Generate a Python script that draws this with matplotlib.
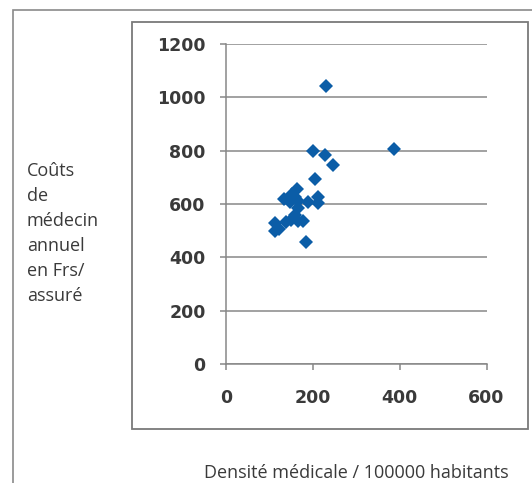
import matplotlib

matplotlib.use("Agg")
import matplotlib.pyplot as plt
from matplotlib.patches import Rectangle

# medical density (per 100000 inhabitants) vs annual doctor cost per insured
densite = [230, 388, 201, 229, 247, 205, 163, 153, 134, 147, 166, 190, 212, 212,
           166, 158, 149, 138, 166, 178, 112, 123, 112, 184, 160]
couts = [1040, 805, 797, 783, 745, 693, 657, 637, 617, 606, 612, 606, 628, 603,
         585, 560, 541, 531, 535, 535, 530, 505, 498, 458, 625]

x_ticks = [0, 200, 400, 600]
y_ticks = [0, 200, 400, 600, 800, 1000, 1200]
y_label_lines = ["Coûts", "de", "médecin", "annuel", "en Frs/", "assuré"]
x_label = "Densité médicale / 100000 habitants"

W, H = 532, 483
GREY = "#878787"
TEXT = "#3a3a3a"
BLUE = "#0b5da7"


def fx(px):
    return px / W


def fy(py):
    return 1 - py / H


fig = plt.figure(figsize=(W / 100, H / 100), dpi=100)

# outer frame and chart-area frame
fig.patches.append(Rectangle((fx(13.3), fy(490)), 1.0, fy(10) - fy(490),
                             transform=fig.transFigure, fill=False,
                             edgecolor="#8a8a8a", lw=1.2))
fig.patches.append(Rectangle((fx(132.3), fy(429)), fx(528) - fx(132.3), fy(22.3) - fy(429),
                             transform=fig.transFigure, fill=False,
                             edgecolor="#7a7a7a", lw=1.3))

ax = fig.add_axes([fx(226), fy(364.3), fx(486.5) - fx(226), fy(43.7) - fy(364.3)])
ax.set_facecolor("none")
ax.plot(densite, couts, ls="none", marker="D", ms=7.4, color=BLUE, zorder=3,
        markeredgewidth=0)

ax.set_xlim(0, 600)
ax.set_ylim(0, 1200)
ax.set_xticks(x_ticks)
ax.set_yticks(y_ticks)
ax.grid(axis="y", color=GREY, lw=1.1)
ax.set_axisbelow(True)
for side in ("top", "right"):
    ax.spines[side].set_visible(False)
for side in ("left", "bottom"):
    ax.spines[side].set_color(GREY)
    ax.spines[side].set_linewidth(1.1)
ax.tick_params(axis="both", colors=GREY, length=4.6, width=1.1, labelcolor=TEXT)
ax.tick_params(axis="y", pad=10)
ax.tick_params(axis="x", pad=13.5)
for lab in ax.get_xticklabels() + ax.get_yticklabels():
    lab.set_fontfamily("DejaVu Sans")
    lab.set_fontweight("bold")
    lab.set_fontsize(12.5)

for i, line in enumerate(y_label_lines):
    fig.text(fx(27), fy(176 + 25 * i), line, ha="left", va="baseline",
             fontsize=13, family="Open Sans", color=TEXT)
fig.text(fx(356), fy(478), x_label, ha="center", va="baseline",
         fontsize=13, family="Open Sans", color=TEXT)

fig.savefig("out.png", dpi=100)
